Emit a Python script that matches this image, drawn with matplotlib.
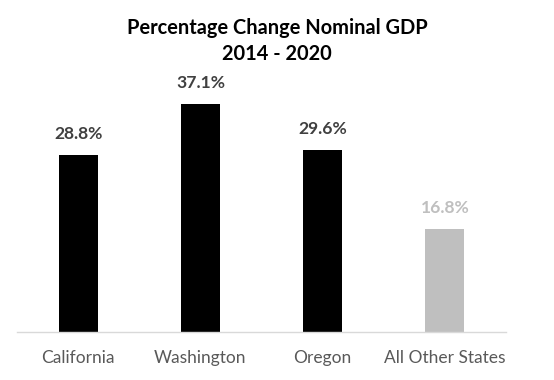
import matplotlib
matplotlib.use("Agg")
import matplotlib.pyplot as plt

categories = ["California", "Washington", "Oregon", "All Other States"]
values = [28.8, 37.1, 29.6, 16.8]
labels = ["28.8%", "37.1%", "29.6%", "16.8%"]
bar_colors = ["#000000", "#000000", "#000000", "#bfbfbf"]
label_colors = ["#404040", "#404040", "#404040", "#bfbfbf"]

W, H = 554, 380
fig = plt.figure(figsize=(W/100, H/100), dpi=100)
ax_left, ax_right, ax_bottom, ax_top = 17, 506, 332, 80
ax = fig.add_axes([ax_left/W, (H-ax_bottom)/H, (ax_right-ax_left)/W, (ax_bottom-ax_top)/H])

x = range(len(categories))
ax.bar(x, values, width=0.32, color=bar_colors)
ax.set_xlim(-0.5, len(categories)-0.5)
ymax = (ax_bottom-ax_top)/6.15
ax.set_ylim(0, ymax)

for i, (v, lab, c) in enumerate(zip(values, labels, label_colors)):
    ax.annotate(lab, (i, v), xytext=(0, 9), textcoords="offset points",
                ha="center", va="bottom", fontsize=12.6, fontweight="bold",
                color=c, family="Lato")

for s in ["top", "right", "left"]:
    ax.spines[s].set_visible(False)
ax.spines["bottom"].set_color("#d9d9d9")
ax.spines["bottom"].set_linewidth(1)
ax.set_yticks([])
ax.set_xticks(list(x))
ax.set_xticklabels(categories, fontsize=12.5, color="#595959", family="Lato")
ax.tick_params(axis="x", length=0, pad=13)

fig.text(0.5, (H-41)/H, "Percentage Change Nominal GDP\n2014 - 2020", ha="center", va="center",
         fontsize=14.4, fontweight="bold", color="#000000", family="Lato", linespacing=1.4)

fig.savefig("out.png", dpi=100)
